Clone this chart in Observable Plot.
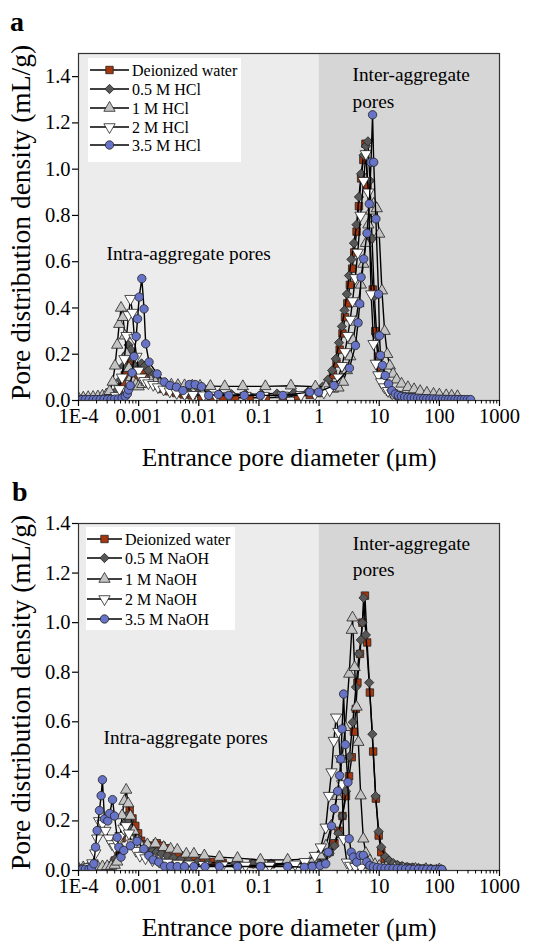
<!DOCTYPE html>
<html><head><meta charset="utf-8">
<script src="https://cdn.jsdelivr.net/npm/d3@7"></script>
<script src="https://cdn.jsdelivr.net/npm/@observablehq/plot@0.6"></script>
<style>
body{margin:0;background:#fff;font-family:"Liberation Serif","Times New Roman",serif;}
#wrap{position:relative;width:536px;height:944px;overflow:hidden;}
#wrap svg, #wrap svg text{font-family:"Liberation Serif","Times New Roman",serif;}
.panel{position:absolute;left:0;}
.tag{position:absolute;font-weight:bold;font-size:28px;line-height:1;font-family:"Liberation Serif",serif;}
</style></head><body><div id="wrap"></div>
<script>
// ---------- tick data ----------
const xTicks = [1e-4, 1e-3, 1e-2, 1e-1, 1, 10, 100, 1000];
const xTickLabels = ["1E-4", "0.001", "0.01", "0.1", "1", "10", "100", "1000"];
const yTicks = [0, 0.2, 0.4, 0.6, 0.8, 1.0, 1.2, 1.4];
const shadeBounds = [1e-4, 1, 1000];
const shadeColors = ["#ececec", "#d6d6d6"];

// ---------- series names ----------
const namesA = ["Deionized water", "0.5 M HCl", "1 M HCl", "2 M HCl", "3.5 M HCl"];
const namesB = ["Deionized water", "0.5 M NaOH", "1 M NaOH", "2 M NaOH", "3.5 M NaOH"];
const fills = ["#a5360d", "#575757", "#c4c4c4", "#ffffff", "#6673c6"];

// ---------- panel a data [diameter µm, density mL/g] ----------
const aWater = [[1e-4,0.004],[1.25e-4,0.004],[1.55e-4,0.005],[1.9e-4,0.005],[2.35e-4,0.006],[2.9e-4,0.007],[3.5e-4,0.01],[4.1e-4,0.018],[4.7e-4,0.04],[5.3e-4,0.075],[5.9e-4,0.11],[6.5e-4,0.15],[7.1e-4,0.17],[7.8e-4,0.14],[8.6e-4,0.11],[9.6e-4,0.1],[1.08e-3,0.12],[1.22e-3,0.12],[1.4e-3,0.1],[1.65e-3,0.08],[2e-3,0.065],[2.5e-3,0.05],[3.2e-3,0.04],[4.2e-3,0.032],[5.6e-3,0.026],[7.6e-3,0.022],[0.011,0.018],[0.016,0.016],[0.025,0.014],[0.04,0.012],[0.07,0.012],[0.13,0.012],[0.25,0.014],[0.45,0.018],[0.7,0.024],[0.95,0.032],[1.2,0.05],[1.45,0.075],[1.7,0.11],[1.95,0.16],[2.2,0.22],[2.45,0.29],[2.7,0.36],[2.95,0.42],[3.25,0.5],[3.55,0.57],[3.85,0.64],[4.2,0.73],[4.6,0.84],[5.0,0.96],[5.45,1.04],[5.9,1.11],[6.4,0.93],[7.0,0.7],[7.8,0.48],[8.6,0.3],[9.5,0.19],[10.5,0.13],[11.8,0.085],[13.3,0.055],[15,0.038],[17.5,0.027],[21,0.02],[26,0.015],[33,0.012],[42,0.01],[55,0.008],[72,0.007],[95,0.006],[125,0.005],[165,0.005],[215,0.004]];
const aHCl05 = [[1e-4,0.005],[1.3e-4,0.005],[1.65e-4,0.006],[2.1e-4,0.006],[2.6e-4,0.008],[3.2e-4,0.012],[3.8e-4,0.022],[4.4e-4,0.045],[5e-4,0.09],[5.6e-4,0.15],[6.2e-4,0.2],[6.8e-4,0.24],[7.4e-4,0.22],[8.1e-4,0.18],[9e-4,0.15],[1.0e-3,0.14],[1.12e-3,0.16],[1.27e-3,0.15],[1.45e-3,0.13],[1.7e-3,0.11],[2.0e-3,0.09],[2.4e-3,0.075],[3e-3,0.06],[3.8e-3,0.05],[5e-3,0.042],[6.8e-3,0.036],[9.5e-3,0.032],[0.014,0.03],[0.022,0.028],[0.035,0.027],[0.06,0.027],[0.11,0.028],[0.2,0.03],[0.38,0.033],[0.65,0.038],[0.9,0.045],[1.15,0.06],[1.4,0.09],[1.65,0.13],[1.9,0.18],[2.15,0.25],[2.4,0.32],[2.65,0.39],[2.9,0.46],[3.15,0.54],[3.45,0.61],[3.8,0.68],[4.2,0.76],[4.6,0.88],[5.0,0.98],[5.5,1.06],[6.0,1.1],[6.5,1.12],[7.0,0.95],[7.6,0.7],[8.3,0.45],[9.1,0.28],[10,0.18],[11.1,0.12],[12.5,0.08],[14,0.055],[16,0.04],[18.5,0.03],[22,0.022],[27,0.017],[34,0.013],[43,0.011],[56,0.009],[73,0.008],[95,0.007],[125,0.006],[165,0.005],[215,0.005]];
const aHCl1 = [[1e-4,0.01],[1.2e-4,0.012],[1.45e-4,0.014],[1.75e-4,0.015],[2.1e-4,0.017],[2.5e-4,0.02],[2.9e-4,0.025],[3.3e-4,0.04],[3.7e-4,0.08],[4.05e-4,0.15],[4.4e-4,0.24],[4.75e-4,0.33],[5.1e-4,0.4],[5.5e-4,0.36],[5.9e-4,0.28],[6.35e-4,0.2],[6.9e-4,0.14],[7.5e-4,0.1],[8.2e-4,0.08],[9e-4,0.07],[1e-3,0.06],[1.15e-3,0.07],[1.35e-3,0.08],[1.6e-3,0.085],[1.9e-3,0.08],[2.3e-3,0.075],[2.8e-3,0.07],[3.5e-3,0.068],[4.5e-3,0.066],[5.8e-3,0.065],[7.8e-3,0.064],[0.0105,0.063],[0.0156,0.062],[0.027,0.061],[0.054,0.061],[0.128,0.061],[0.34,0.064],[0.87,0.06],[1.3,0.06],[1.7,0.05],[2.1,0.055],[2.5,0.08],[2.9,0.13],[3.3,0.19],[3.7,0.26],[4.1,0.34],[4.5,0.42],[4.95,0.5],[5.45,0.59],[6,0.68],[6.6,0.76],[7.3,0.82],[8.1,0.85],[9.1,0.83],[10,0.72],[11.1,0.475],[12.3,0.3],[13.6,0.2],[15,0.15],[17,0.115],[19.5,0.09],[23.5,0.072],[30,0.057],[38,0.048],[48,0.04],[62,0.033],[80,0.028],[100,0.025],[130,0.022],[160,0.02],[200,0.018]];
const aHCl2 = [[1e-4,0.005],[1.3e-4,0.005],[1.7e-4,0.006],[2.2e-4,0.007],[2.8e-4,0.008],[3.5e-4,0.01],[4.2e-4,0.02],[4.8e-4,0.05],[5.3e-4,0.1],[5.8e-4,0.18],[6.3e-4,0.28],[6.8e-4,0.37],[7.3e-4,0.44],[7.9e-4,0.38],[8.5e-4,0.27],[9.2e-4,0.19],[1e-3,0.13],[1.1e-3,0.1],[1.25e-3,0.085],[1.45e-3,0.075],[1.75e-3,0.068],[2.1e-3,0.058],[2.6e-3,0.048],[3.3e-3,0.04],[4.3e-3,0.033],[5.8e-3,0.028],[8e-3,0.025],[0.012,0.023],[0.019,0.022],[0.032,0.021],[0.06,0.021],[0.12,0.021],[0.25,0.022],[0.5,0.024],[0.85,0.028],[1.2,0.035],[1.5,0.045],[1.8,0.065],[2.1,0.1],[2.4,0.15],[2.7,0.21],[3.0,0.28],[3.3,0.35],[3.6,0.43],[4.0,0.53],[4.4,0.64],[4.9,0.8],[5.5,0.95],[6.0,1.066],[6.6,0.9],[7.35,0.46],[8.05,0.245],[8.8,0.16],[9.7,0.11],[10.8,0.08],[12.2,0.058],[14,0.042],[16.5,0.032],[20,0.025],[25,0.019],[32,0.015],[41,0.012],[53,0.01],[70,0.008],[92,0.007],[120,0.006],[155,0.006],[200,0.005]];
const aHCl35 = [[1e-4,0.004],[1.15e-4,0.004],[1.3e-4,0.004],[1.5e-4,0.004],[1.75e-4,0.004],[2e-4,0.004],[2.3e-4,0.004],[2.65e-4,0.005],[3.05e-4,0.005],[3.5e-4,0.005],[4e-4,0.006],[4.6e-4,0.007],[5.3e-4,0.01],[6e-4,0.018],[6.5e-4,0.029],[6.8e-4,0.046],[7.25e-4,0.065],[7.8e-4,0.12],[8.4e-4,0.19],[9.1e-4,0.277],[9.6e-4,0.353],[1.02e-3,0.447],[1.13e-3,0.527],[1.23e-3,0.396],[1.31e-3,0.245],[1.49e-3,0.166],[2.03e-3,0.115],[2.66e-3,0.08],[3.32e-3,0.065],[4.25e-3,0.058],[5.45e-3,0.043],[6.98e-3,0.069],[8.7e-3,0.069],[0.0111,0.06],[0.0146,0.022],[0.0212,0.026],[0.0315,0.022],[0.057,0.022],[0.106,0.022],[0.25,0.022],[0.7,0.036],[0.98,0.036],[1.77,0.065],[3.2,0.14],[4.02,0.238],[4.45,0.336],[4.74,0.418],[4.99,0.533],[5.52,0.612],[6.26,0.723],[6.84,0.85],[7.3,1.03],[7.75,1.235],[8.1,1.03],[8.8,0.785],[9.75,0.46],[10.1,0.28],[10.5,0.195],[11.3,0.152],[12.6,0.108],[14.3,0.072],[16.2,0.043],[18.5,0.028],[20.8,0.022],[23.5,0.018],[26.5,0.015],[30,0.013],[34,0.012],[38.5,0.011],[43.5,0.01],[49,0.009],[55,0.008],[62,0.008],[70,0.007],[79,0.007],[89,0.006],[100,0.006],[113,0.006],[127,0.005],[143,0.005],[161,0.005],[182,0.005],[205,0.004],[231,0.004],[260,0.004],[293,0.004],[330,0.004]];

// ---------- panel b data ----------
const bWater = [[1e-4,0.004],[1.3e-4,0.005],[1.7e-4,0.006],[2.2e-4,0.007],[2.8e-4,0.01],[3.4e-4,0.018],[4e-4,0.04],[4.6e-4,0.08],[5.2e-4,0.13],[5.8e-4,0.18],[6.4e-4,0.22],[7.1e-4,0.245],[7.9e-4,0.21],[8.8e-4,0.18],[9.8e-4,0.15],[1.1e-3,0.12],[1.25e-3,0.105],[1.45e-3,0.1],[1.7e-3,0.1],[2.0e-3,0.11],[2.4e-3,0.1],[2.9e-3,0.09],[3.6e-3,0.075],[4.6e-3,0.062],[6e-3,0.052],[8e-3,0.045],[0.011,0.04],[0.016,0.035],[0.025,0.031],[0.042,0.028],[0.08,0.026],[0.16,0.025],[0.32,0.025],[0.6,0.028],[0.9,0.035],[1.2,0.05],[1.5,0.075],[1.8,0.11],[2.1,0.16],[2.45,0.22],[2.8,0.3],[3.15,0.38],[3.5,0.457],[3.8,0.56],[4.08,0.652],[4.34,0.758],[4.79,0.874],[5.25,1.0],[5.79,1.109],[6.3,0.92],[7.0,0.718],[7.93,0.48],[8.8,0.29],[9.8,0.141],[10.8,0.074],[12.3,0.047],[14,0.035],[15.8,0.027],[18.5,0.021],[22,0.017],[27,0.014],[33,0.012],[41,0.01],[52,0.008],[66,0.007],[82,0.006],[100,0.005]];
const bNaOH05 = [[1e-4,0.005],[1.3e-4,0.006],[1.7e-4,0.007],[2.2e-4,0.008],[2.8e-4,0.012],[3.4e-4,0.022],[4e-4,0.045],[4.6e-4,0.09],[5.2e-4,0.14],[5.8e-4,0.19],[6.4e-4,0.22],[7e-4,0.2],[7.7e-4,0.17],[8.6e-4,0.15],[9.6e-4,0.13],[1.08e-3,0.11],[1.25e-3,0.095],[1.45e-3,0.085],[1.7e-3,0.08],[2e-3,0.075],[2.4e-3,0.068],[3e-3,0.06],[3.8e-3,0.052],[5e-3,0.045],[6.8e-3,0.04],[9.5e-3,0.035],[0.014,0.032],[0.022,0.03],[0.04,0.028],[0.08,0.027],[0.16,0.027],[0.32,0.028],[0.6,0.03],[0.9,0.036],[1.2,0.05],[1.5,0.07],[1.8,0.1],[2.1,0.15],[2.45,0.22],[2.8,0.32],[3.2,0.46],[3.64,0.598],[4.1,0.74],[4.62,0.874],[4.95,0.93],[5.25,1.0],[5.5,1.1],[6.0,0.95],[6.8,0.758],[7.7,0.55],[8.7,0.3],[9.8,0.157],[10.8,0.094],[12.6,0.056],[14.5,0.04],[17,0.03],[20,0.023],[24,0.018],[29,0.014],[36,0.012],[45,0.01],[57,0.008],[72,0.007],[90,0.006],[110,0.005]];
const bNaOH1 = [[1e-4,0.01],[1.2e-4,0.012],[1.45e-4,0.013],[1.75e-4,0.014],[2.1e-4,0.015],[2.5e-4,0.016],[3e-4,0.017],[3.5e-4,0.018],[4e-4,0.022],[4.4e-4,0.035],[4.8e-4,0.1],[5.3e-4,0.222],[5.8e-4,0.28],[6.2e-4,0.325],[6.7e-4,0.27],[7.3e-4,0.22],[8.3e-4,0.16],[9.5e-4,0.12],[1.1e-3,0.1],[1.4e-3,0.105],[1.9e-3,0.108],[2.6e-3,0.094],[3.4e-3,0.087],[4.4e-3,0.083],[6.2e-3,0.067],[8.3e-3,0.067],[0.0124,0.06],[0.022,0.054],[0.044,0.05],[0.106,0.043],[0.3,0.043],[0.77,0.047],[1.05,0.06],[1.3,0.1],[1.6,0.18],[2.0,0.3],[2.4,0.45],[2.73,0.578],[3.17,0.793],[3.5,0.97],[3.6,1.02],[3.9,0.82],[4.2,0.66],[4.5,0.518],[4.92,0.302],[5.44,0.128],[6,0.07],[7,0.04],[8.5,0.025],[10,0.018],[13,0.013],[18,0.01],[25,0.008],[40,0.006],[60,0.005],[100,0.004]];
const bNaOH2 = [[1e-4,0.008],[1.25e-4,0.01],[1.5e-4,0.015],[1.7e-4,0.03],[1.9e-4,0.07],[2.05e-4,0.13],[2.2e-4,0.2],[2.5e-4,0.19],[2.8e-4,0.161],[3.2e-4,0.13],[3.6e-4,0.107],[4e-4,0.095],[4.5e-4,0.11],[5e-4,0.14],[5.6e-4,0.17],[6.2e-4,0.18],[6.9e-4,0.15],[7.8e-4,0.11],[9e-4,0.08],[1.05e-3,0.06],[1.3e-3,0.05],[1.7e-3,0.042],[2.2e-3,0.036],[3e-3,0.032],[4.5e-3,0.028],[7e-3,0.025],[0.012,0.023],[0.025,0.021],[0.06,0.02],[0.15,0.02],[0.4,0.025],[0.58,0.035],[0.85,0.06],[1.07,0.094],[1.29,0.174],[1.46,0.302],[1.61,0.397],[1.76,0.524],[1.92,0.618],[2.1,0.56],[2.25,0.45],[2.41,0.349],[2.56,0.128],[2.9,0.033],[3.3,0.02],[4,0.015],[5,0.012],[7,0.01],[10,0.008],[15,0.006],[25,0.005],[40,0.004],[60,0.004],[100,0.004]];
const bNaOH35 = [[1e-4,0.004],[1.15e-4,0.004],[1.3e-4,0.005],[1.5e-4,0.006],[1.65e-4,0.012],[1.8e-4,0.027],[1.92e-4,0.094],[2.04e-4,0.161],[2.23e-4,0.242],[2.38e-4,0.302],[2.5e-4,0.366],[2.7e-4,0.208],[3.07e-4,0.2],[3.3e-4,0.23],[3.68e-4,0.286],[3.97e-4,0.22],[4.4e-4,0.134],[4.68e-4,0.094],[5.1e-4,0.054],[5.66e-4,0.081],[7.3e-4,0.1],[9.4e-4,0.118],[1.22e-3,0.087],[1.48e-3,0.06],[1.74e-3,0.043],[2.16e-3,0.034],[2.7e-3,0.017],[3.4e-3,0.017],[4.4e-3,0.016],[5.8e-3,0.016],[8.3e-3,0.016],[0.0127,0.016],[0.022,0.016],[0.044,0.016],[0.106,0.016],[0.3,0.016],[0.57,0.013],[0.77,0.016],[1.04,0.02],[1.29,0.027],[1.42,0.074],[1.61,0.18],[1.8,0.25],[2.04,0.32],[2.2,0.383],[2.3,0.45],[2.41,0.571],[2.56,0.712],[2.73,0.508],[3.02,0.356],[3.17,0.128],[3.42,0.074],[3.73,0.054],[4.23,0.034],[4.8,0.061],[5.45,0.061],[6.2,0.035],[7,0.02],[8,0.015],[9.3,0.012],[10.8,0.01],[12.5,0.009],[14.5,0.008],[17,0.008],[20,0.007],[23.5,0.007],[27.5,0.006],[32,0.006],[38,0.005],[45,0.005],[53,0.005],[62,0.005],[73,0.004],[86,0.004],[100,0.004],[110,0.004]];

// ---------- annotations ----------
const annotA = [{x: 3.6, y: 1.36, text: "Inter-aggregate\npores"}, {x: 2.92e-4, y: 0.644, text: "Intra-aggregate pores"}];
const annotB = [{x: 3.64, y: 1.275, text: "Inter-aggregate\npores"}, {x: 2.6e-4, y: 0.545, text: "Intra-aggregate pores"}];

// ---------- symbols ----------
const triDown = {draw(ctx, size) {
  const y = -Math.sqrt(size / (Math.sqrt(3) * 3));
  ctx.moveTo(0, -y * 2);
  ctx.lineTo(-Math.sqrt(3) * y, y);
  ctx.lineTo(Math.sqrt(3) * y, y);
  ctx.closePath();
}};
const symbols = [d3.symbolSquare, d3.symbolDiamond2, d3.symbolTriangle, triDown, d3.symbolCircle];
const R = 4.2;
const FONT = "Liberation Serif, Times New Roman, serif";

const minorTicks = [];
for (let e = -4; e < 3; e++) for (let k = 2; k <= 9; k++) minorTicks.push(k * Math.pow(10, e));

function makePanel({series, names, yMax, height, marginBottom, annot, legend}) {
  const marks = [
    Plot.rect([{a: shadeBounds[0], b: shadeBounds[1]}], {x1: "a", x2: "b", fill: shadeColors[0]}),
    Plot.rect([{a: shadeBounds[1], b: shadeBounds[2]}], {x1: "a", x2: "b", fill: shadeColors[1]})
  ];
  series.forEach((s, i) => {
    marks.push(Plot.line(s, {x: d => d[0], y: d => d[1], stroke: "#000", strokeWidth: 1.4, clip: true}));
    marks.push(Plot.dot(s, {x: d => d[0], y: d => d[1], r: R, symbol: symbols[i], fill: fills[i], stroke: "#222", strokeWidth: 0.8, clip: true}));
  });
  marks.push(
    Plot.frame({stroke: "#333", strokeWidth: 1.2}),
    Plot.axisX({ticks: minorTicks, tickSize: 3.5, tickFormat: () => "", label: null, strokeWidth: 1}),
    Plot.axisX({ticks: xTicks, tickSize: 6, tickPadding: 2, fontSize: 20.5, fontFamily: FONT, tickFormat: d => xTickLabels[xTicks.indexOf(d)], label: null, strokeWidth: 1.2}),
    Plot.axisY({ticks: yTicks, tickSize: 6, tickPadding: 2, fontSize: 20.5, fontFamily: FONT, tickFormat: d => d.toFixed(1), label: null, strokeWidth: 1.2}),
    Plot.text(["Entrance pore diameter (μm)"], {frameAnchor: "bottom", dy: 57, fontSize: 25.5, fontFamily: FONT, textAnchor: "middle", lineAnchor: "middle", text: d => d}),
    Plot.text(["Pore distribution density (mL/g)"], {frameAnchor: "left", dx: -57.5, dy: -4.5, rotate: -90, fontSize: 27.5, fontFamily: FONT, textAnchor: "middle", lineAnchor: "middle", text: d => d}),
    Plot.text(annot, {x: "x", y: "y", text: "text", textAnchor: "start", fontSize: 19.3, fontFamily: FONT, lineHeight: 1.38})
  );
  const svg = Plot.plot({
    width: 536, height, marginTop: 53, marginBottom, marginLeft: 78, marginRight: 37,
    x: {type: "log", domain: [1e-4, 1000]},
    y: {domain: [0, yMax]},
    style: {fontFamily: FONT, color: "#000", background: "transparent", overflow: "visible"},
    marks
  });
  // legend box
  const g = d3.select(svg).append("g").attr("text-anchor", "start").attr("font-family", FONT);
  g.append("rect").attr("x", legend.x0).attr("y", legend.y0).attr("width", legend.w).attr("height", legend.h).attr("fill", "#fff");
  names.forEach((n, i) => {
    const y = legend.rows[i];
    g.append("line").attr("x1", legend.lx1).attr("x2", legend.lx2).attr("y1", y).attr("y2", y).attr("stroke", "#000").attr("stroke-width", 1.4);
    g.append("path").attr("d", d3.symbol(symbols[i], Math.PI * R * R)()).attr("transform", `translate(${(legend.lx1 + legend.lx2) / 2},${y})`)
      .attr("fill", fills[i]).attr("stroke", "#222").attr("stroke-width", 0.8);
    g.append("text").attr("x", legend.tx).attr("y", y).attr("dy", "0.35em").attr("text-anchor", "start").attr("font-size", 16).attr("fill", "#000").text(n);
  });
  return svg;
}

const wrap = document.getElementById("wrap");
const pa = makePanel({series: [aWater, aHCl05, aHCl1, aHCl2, aHCl35], names: namesA, yMax: 1.5, height: 470, marginBottom: 70, annot: annotA,
  legend: {x0: 88, y0: 58, w: 153, h: 104, rows: [70, 89, 108, 127, 145], lx1: 90, lx2: 129, tx: 132}});
pa.classList.add("panel"); pa.style.top = "0px";
wrap.appendChild(pa);
const pb = makePanel({series: [bWater, bNaOH05, bNaOH1, bNaOH2, bNaOH35], names: namesB, yMax: 1.4, height: 474, marginBottom: 74, annot: annotB,
  legend: {x0: 86, y0: 57, w: 149, h: 103, rows: [69, 88, 109, 129, 149], lx1: 87, lx2: 122, tx: 125}});
pb.classList.add("panel"); pb.style.top = "470px";
wrap.appendChild(pb);

const ta = document.createElement("div"); ta.className = "tag"; ta.textContent = "a"; ta.style.left = "10px"; ta.style.top = "8px"; wrap.appendChild(ta);
const tb = document.createElement("div"); tb.className = "tag"; tb.textContent = "b"; tb.style.left = "12px"; tb.style.top = "478px"; wrap.appendChild(tb);
</script></body></html>
